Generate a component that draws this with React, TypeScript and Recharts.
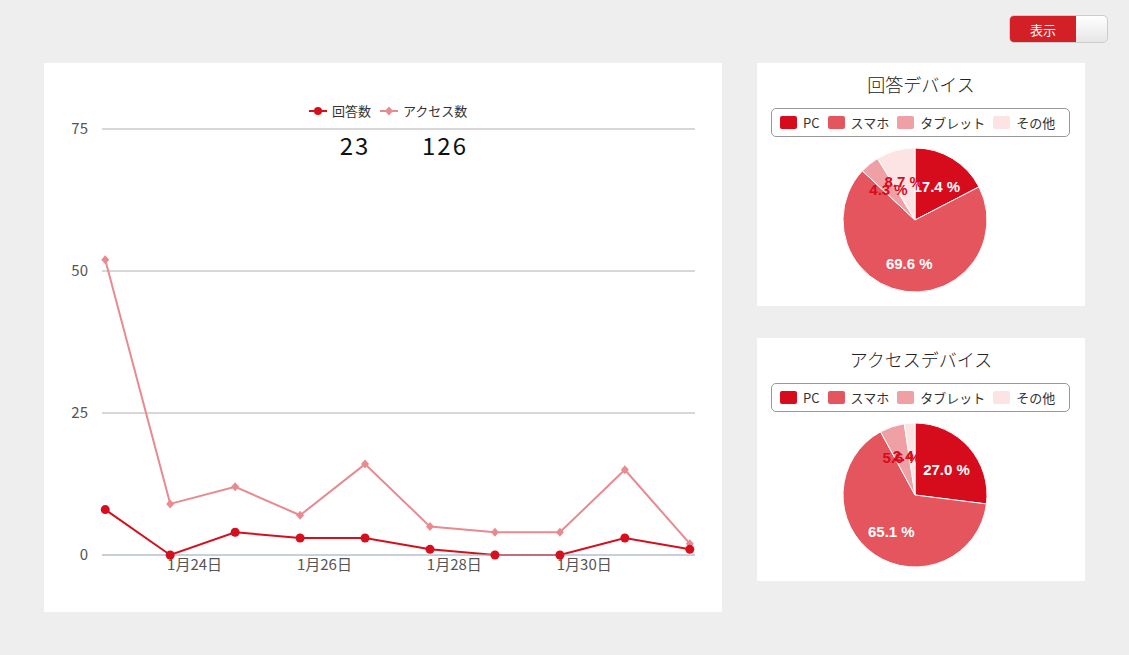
import React from 'react';
import { LineChart, Line, XAxis, YAxis, CartesianGrid, PieChart, Pie, Cell, Legend } from 'recharts';

const FONT = '"Noto Sans CJK JP", "Noto Sans", sans-serif';

// daily values, day 0 = 1月23日
const days = [0, 1, 2, 3, 4, 5, 6, 7, 8, 9];
const answers = [8, 0, 4, 3, 3, 1, 0, 0, 3, 1];
const accesses = [52, 9, 12, 7, 16, 5, 4, 4, 15, 2];
const xTicks = [1.375, 3.375, 5.375, 7.375];
const xTickLabels = ['1月24日', '1月26日', '1月28日', '1月30日'];
const yTicks = [0, 25, 50, 75];

const deviceNames = ['PC', 'スマホ', 'タブレット', 'その他'];
const deviceColors = ['#d60b1c', '#e4555d', '#efa0a4', '#fce4e5'];
const labelColors = ['#ffffff', '#ffffff', '#d60b1c', '#d60b1c'];
const answerDevices = [4, 16, 1, 2];
const accessDevices = [34, 82, 7, 3];

const ANSWER_COLOR = '#d50f1d';
const ACCESS_COLOR = '#e88a8f';

const lineData = days.map((d, i) => ({ day: d, answers: answers[i], accesses: accesses[i] }));
const total = (arr: number[]) => arr.reduce((a, b) => a + b, 0);

const Diamond = (props: any) => {
  const { cx, cy } = props;
  if (cx == null || cy == null) return null;
  return <path d={`M${cx},${cy - 4.5}L${cx + 4},${cy}L${cx},${cy + 4.5}L${cx - 4},${cy}Z`} fill={ACCESS_COLOR} />;
};

const LineLegend = () => (
  <div style={{ position: 'absolute', left: 264, top: 38, display: 'flex', alignItems: 'center', fontSize: 13, color: '#333', fontFamily: FONT }}>
    <svg width={20} height={12}><line x1={1} y1={6} x2={19} y2={6} stroke={ANSWER_COLOR} strokeWidth={2} /><circle cx={10} cy={6} r={4} fill={ANSWER_COLOR} /></svg>
    <span style={{ marginLeft: 4, marginRight: 8 }}>回答数</span>
    <svg width={20} height={12}><line x1={1} y1={6} x2={19} y2={6} stroke={ACCESS_COLOR} strokeWidth={2} /><path d="M10,1.5L14,6L10,10.5L6,6Z" fill={ACCESS_COLOR} /></svg>
    <span style={{ marginLeft: 4 }}>アクセス数</span>
  </div>
);

const renderPieLabel = (props: any) => {
  const { cx, cy, midAngle, outerRadius, percent, index } = props;
  const RAD = Math.PI / 180;
  const r = outerRadius - 30;
  const x = cx + r * Math.cos(-midAngle * RAD);
  const y = cy + r * Math.sin(-midAngle * RAD);
  return (
    <text x={x} y={y + 2} textAnchor="middle" dominantBaseline="central" fill={labelColors[index]}
      fontSize={15} fontWeight="bold" fontFamily='"Liberation Sans", Arial, sans-serif'>
      {(percent * 100).toFixed(1)} %
    </text>
  );
};

const PieLegend = () => (
  <div style={{ position: 'absolute', left: 14, top: 45, width: 297, height: 27, border: '1px solid #999', borderRadius: 5,
    display: 'flex', alignItems: 'center', fontSize: 13, color: '#333', fontFamily: FONT, boxSizing: 'content-box' }}>
    {deviceNames.map((n, i) => (
      <div key={n} style={{ display: 'flex', alignItems: 'center', marginLeft: 8 }}>
        <span style={{ display: 'inline-block', width: 17, height: 13, background: deviceColors[i], borderRadius: 2 }} />
        <span style={{ marginLeft: 6 }}>{n}</span>
      </div>
    ))}
  </div>
);

const DevicePie = ({ title, values, top }: { title: string; values: number[]; top: number }) => {
  const data = deviceNames.map((n, i) => ({ name: n, value: values[i] }));
  return (
    <div style={{ position: 'absolute', left: 757, top, width: 328, height: 243, background: '#fff' }}>
      <div style={{ position: 'absolute', left: 0, top: 8, width: 328, textAlign: 'center', fontSize: 18, color: '#222', fontFamily: FONT, fontWeight: 300 }}>{title}</div>
      <PieChart width={328} height={243} margin={{ top: 0, right: 0, bottom: 0, left: 0 }}>
        <Pie data={data} dataKey="value" nameKey="name" cx={158} cy={157} outerRadius={72} startAngle={90} endAngle={-270}
          stroke="#fff" strokeWidth={1} labelLine={false} label={renderPieLabel} isAnimationActive={false}>
          {data.map((d, i) => <Cell key={d.name} fill={deviceColors[i]} />)}
        </Pie>
        <Legend content={() => null} />
      </PieChart>
      <PieLegend />
    </div>
  );
};

export default function App() {
  return (
    <div style={{ position: 'absolute', left: 0, top: 0, width: 1129, height: 655, background: '#eeeeee', fontFamily: FONT }}>
      {/* toggle */}
      <div style={{ position: 'absolute', left: 1009, top: 15, width: 99, height: 28, borderRadius: 5, overflow: 'hidden', border: '1px solid #ccc', boxSizing: 'border-box', display: 'flex' }}>
        <div style={{ width: 66, background: '#d32026', color: '#fff', fontSize: 13, display: 'flex', alignItems: 'center', justifyContent: 'center' }}>表示</div>
        <div style={{ flex: 1, background: 'linear-gradient(#ffffff, #e6e6e6)', borderRadius: '0 5px 5px 0' }} />
      </div>

      {/* line card */}
      <div style={{ position: 'absolute', left: 44, top: 63, width: 678, height: 549, background: '#fff' }}>
        <LineChart width={678} height={549} data={lineData} margin={{ top: 66, right: 27, bottom: 27, left: 0 }}>
          <CartesianGrid horizontal vertical={false} stroke="#b0b0b0" />
          <XAxis type="number" dataKey="day" domain={[-0.05, 9.08]} ticks={xTicks} interval={0}
            tickFormatter={(v: number) => xTickLabels[xTicks.indexOf(v)]}
            axisLine={{ stroke: '#b8cadb', strokeWidth: 1 }} tickLine={false} tickSize={3} tickMargin={1} height={30}
            tick={{ fill: '#555', fontSize: 15, fontFamily: FONT }} />
          <YAxis type="number" domain={[0, 75]} ticks={yTicks} width={58} axisLine={false} tickLine={false} tickMargin={8}
            tick={{ fill: '#555', fontSize: 15, fontFamily: FONT }} />
          <Line type="linear" dataKey="accesses" stroke={ACCESS_COLOR} strokeWidth={2} dot={<Diamond />} activeDot={false} isAnimationActive={false} />
          <Line type="linear" dataKey="answers" stroke={ANSWER_COLOR} strokeWidth={2} dot={{ r: 4.5, fill: ANSWER_COLOR, stroke: ANSWER_COLOR, strokeWidth: 0 }} activeDot={false} isAnimationActive={false} />
        </LineChart>
        <LineLegend />
        <div style={{ position: 'absolute', left: 286, top: 64, width: 50, textAlign: 'center', fontSize: 24, letterSpacing: 2, color: '#111' }}>{total(answers)}</div>
        <div style={{ position: 'absolute', left: 366, top: 64, width: 70, textAlign: 'center', fontSize: 24, letterSpacing: 2, color: '#111' }}>{total(accesses)}</div>
      </div>

      <DevicePie title="回答デバイス" values={answerDevices} top={63} />
      <DevicePie title="アクセスデバイス" values={accessDevices} top={338} />
    </div>
  );
}
